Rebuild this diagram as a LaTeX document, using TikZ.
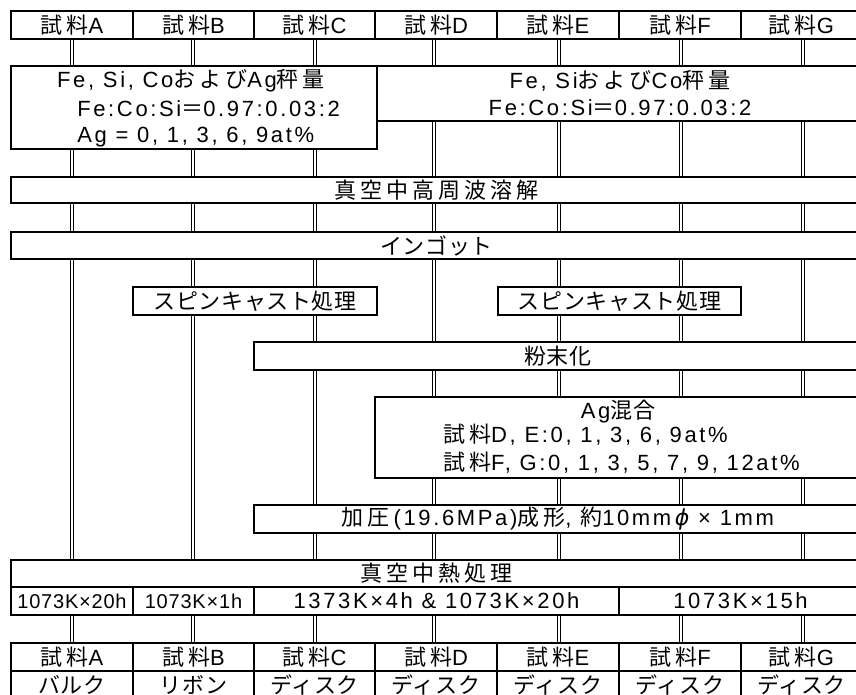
\documentclass[tikz,border=0pt]{standalone}
\usepackage{fontspec}
\setmainfont{Liberation Sans}[LetterSpace=12]
\newfontfamily\lsn{Liberation Sans}[LetterSpace=4]
\newfontfamily\jpf{Noto Sans CJK JP}[LetterSpace=18]
\newfontfamily\jpk{Noto Sans CJK JP}[LetterSpace=3]
\newfontfamily\dvs{DejaVu Sans}
\newcommand\J[1]{{\jpf #1}}
\newcommand\K[1]{{\jpk #1}}
\usetikzlibrary{backgrounds}
\newcommand\mybox[7][]{\node[bx,#1,anchor=north west,minimum width={(#5-(#3))*0.75pt},minimum height={(#6-(#4))*0.75pt}] (#2) at (#3,#4) {#7};}
\begin{document}
\begin{tikzpicture}[x=0.75pt,y=-0.75pt,
  bx/.style={draw,line width=1.1pt,inner sep=0pt,outer sep=0pt,font=\fontsize{16.5pt}{19pt}\selectfont},
  sm/.style={font=\fontsize{15pt}{17pt}\selectfont\lsn},
  tx/.style={inner sep=0pt,font=\fontsize{16.5pt}{19pt}\selectfont},
  dbl/.style={double,double distance=1.7pt,line width=0.75pt}]
\useasboundingbox (0,0) rectangle (856,695);
% column axes
\coordinate (cA) at (72,0);
\coordinate (cB) at (193,0);
\coordinate (cC) at (315,0);
\coordinate (cD) at (434,0);
\coordinate (cE) at (559,0);
\coordinate (cF) at (681,0);
\coordinate (cG) at (803,0);
% top header
\mybox{hA}{11}{11}{133}{39}{\J{試料}A}
\mybox{hB}{133}{11}{254}{39}{\J{試料}B}
\mybox{hC}{254}{11}{375}{39}{\J{試料}C}
\mybox{hD}{375}{11}{497}{39}{\J{試料}D}
\mybox{hE}{497}{11}{619}{39}{\J{試料}E}
\mybox{hF}{619}{11}{741}{39}{\J{試料}F}
\mybox{hG}{741}{11}{862}{39}{\J{試料}G}
% weighing
\mybox{feL}{11}{66}{377}{149}{}
\mybox{feR}{377}{66}{862}{121}{}
\node[tx] (feL1) at (191,81) {Fe, Si, Co\J{および}Ag\J{秤量}};
\node[tx,anchor=west] (feL2) at (77,109) {Fe:Co:Si\J{＝}0.97:0.03:2};
\node[tx,anchor=west] (feL3) at (77,137) {Ag = 0, 1, 3, 6, 9at\%};
\node[tx] (feR1) at (620,81) {Fe, Si\J{および}Co\J{秤量}};
\node[tx] (feR2) at (620,108) {Fe:Co:Si\J{＝}0.97:0.03:2};
% process boxes
\mybox{melt}{11}{177}{862}{203}{\J{真空中高周波溶解}}
\mybox{ingot}{11}{232}{862}{259}{\K{インゴット}}
\mybox{spinA}{133}{287}{377}{315}{\K{スピンキャスト処理}}
\mybox{spinB}{498}{287}{741}{315}{\K{スピンキャスト処理}}
\mybox{powder}{254}{342}{862}{370}{\K{粉末化}}
\mybox{agmix}{375}{397}{862}{478}{}
\node[tx] (ag1) at (618,412) {Ag\K{混合}};
\node[tx,anchor=west] (ag2) at (443,435) {\J{試料}D, E:0, 1, 3, 6, 9at\%};
\node[tx,anchor=west] (ag3) at (443,463) {\J{試料}F, G:0, 1, 3, 5, 7, 9, 12at\%};
\mybox{press}{254}{505}{862}{533}{\J{加圧}\,(19.6MPa)\J{成形}, \J{約}10mm\,{\dvs\itshape ϕ} × 1mm}
\mybox{heat}{11}{560}{862}{587}{\J{真空中熱処理}}
\mybox[sm]{tA}{11}{587}{133}{615}{1073K×20h}
\mybox[sm]{tB}{133}{587}{254}{615}{1073K×1h}
\mybox{tC}{254}{587}{619}{615}{1373K×4h \& 1073K×20h}
\mybox{tF}{619}{587}{862}{615}{1073K×15h}
% bottom header
\mybox{bA}{11}{643}{133}{671}{\J{試料}A}
\mybox{bB}{133}{643}{254}{671}{\J{試料}B}
\mybox{bC}{254}{643}{375}{671}{\J{試料}C}
\mybox{bD}{375}{643}{497}{671}{\J{試料}D}
\mybox{bE}{497}{643}{619}{671}{\J{試料}E}
\mybox{bF}{619}{643}{741}{671}{\J{試料}F}
\mybox{bG}{741}{643}{862}{671}{\J{試料}G}
\mybox{kA}{11}{671}{133}{699}{\K{バルク}}
\mybox{kB}{133}{671}{254}{699}{\K{リボン}}
\mybox{kC}{254}{671}{375}{699}{\K{ディスク}}
\mybox{kD}{375}{671}{497}{699}{\K{ディスク}}
\mybox{kE}{497}{671}{619}{699}{\K{ディスク}}
\mybox{kF}{619}{671}{741}{699}{\K{ディスク}}
\mybox{kG}{741}{671}{862}{699}{\K{ディスク}}
% connectors
\begin{pgfonlayer}{background}
\fill[white] (0,0) rectangle (856,695);
\foreach \c in {A,B,C} {
  \draw[dbl] (h\c.south -| c\c) -- (feL.north -| c\c);
  \draw[dbl] (feL.south -| c\c) -- (melt.north -| c\c);
}
\foreach \c in {D,E,F,G} {
  \draw[dbl] (h\c.south -| c\c) -- (feR.north -| c\c);
  \draw[dbl] (feR.south -| c\c) -- (melt.north -| c\c);
}
\foreach \c in {A,B,C,D,E,F,G}
  \draw[dbl] (melt.south -| c\c) -- (ingot.north -| c\c);
\draw[dbl] (ingot.south -| cA) -- (heat.north -| cA);
\draw[dbl] (ingot.south -| cB) -- (spinA.north -| cB);
\draw[dbl] (spinA.south -| cB) -- (heat.north -| cB);
\draw[dbl] (ingot.south -| cC) -- (spinA.north -| cC);
\draw[dbl] (spinA.south -| cC) -- (powder.north -| cC);
\draw[dbl] (powder.south -| cC) -- (press.north -| cC);
\foreach \c in {D,G}
  \draw[dbl] (ingot.south -| c\c) -- (powder.north -| c\c);
\foreach \c in {E,F} {
  \draw[dbl] (ingot.south -| c\c) -- (spinB.north -| c\c);
  \draw[dbl] (spinB.south -| c\c) -- (powder.north -| c\c);
}
\foreach \c in {D,E,F,G} {
  \draw[dbl] (powder.south -| c\c) -- (agmix.north -| c\c);
  \draw[dbl] (agmix.south -| c\c) -- (press.north -| c\c);
}
\foreach \c in {C,D,E,F,G}
  \draw[dbl] (press.south -| c\c) -- (heat.north -| c\c);
\draw[dbl] (tA.south -| cA) -- (bA.north -| cA);
\draw[dbl] (tB.south -| cB) -- (bB.north -| cB);
\foreach \c in {C,D,E}
  \draw[dbl] (tC.south -| c\c) -- (b\c.north -| c\c);
\foreach \c in {F,G}
  \draw[dbl] (tF.south -| c\c) -- (b\c.north -| c\c);
\end{pgfonlayer}
\end{tikzpicture}
\end{document}
